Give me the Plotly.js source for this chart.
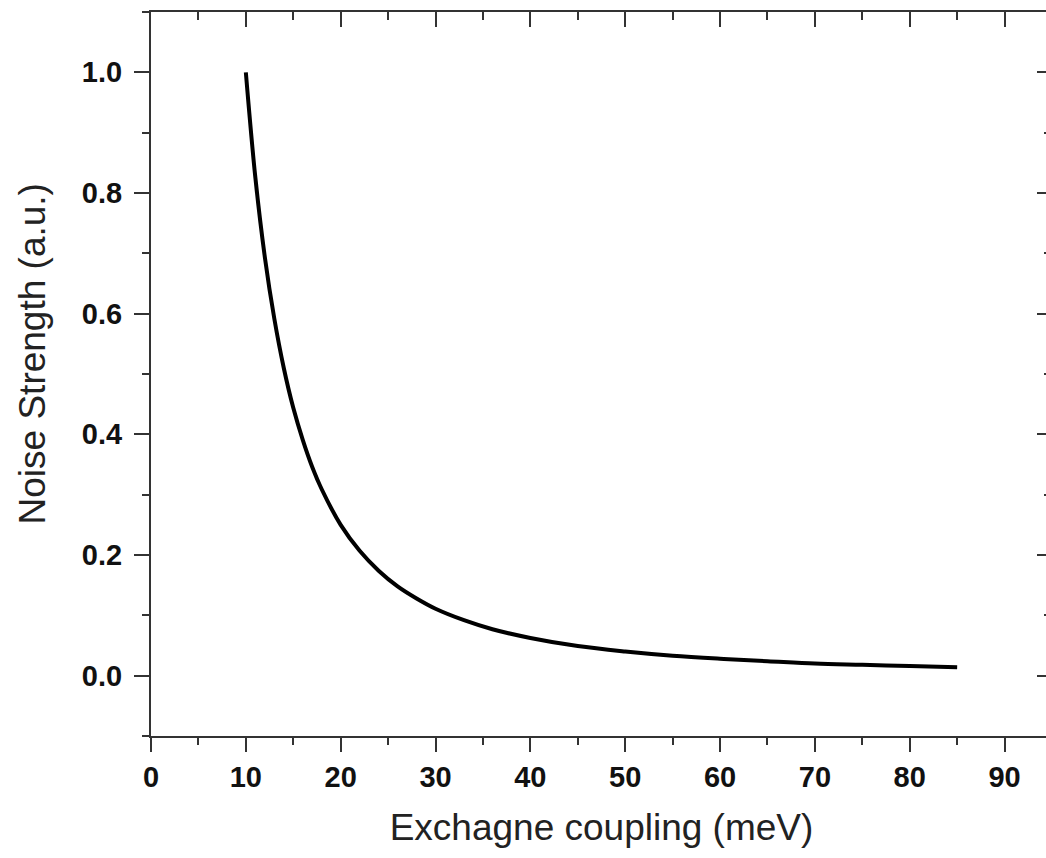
<!DOCTYPE html>
<html>
<head>
<meta charset="utf-8">
<script src="https://cdn.plot.ly/plotly-3.0.1.min.js"></script>
<style>
html, body { margin: 0; padding: 0; overflow: hidden; background: #fff; }
#chart { width: 1070px; height: 858px; }
</style>
</head>
<body>
<div id="chart"></div>
<script>
// Exchange coupling (meV)
const exchangeCoupling = [10, 11, 12, 13, 14, 15, 16, 17, 18, 20, 22, 24, 26, 28, 30, 33, 36, 40, 45, 50, 55, 60, 65, 70, 75, 80, 85];
// Noise strength (a.u.)
const noiseStrength = [1.0, 0.826, 0.694, 0.592, 0.510, 0.444, 0.391, 0.346, 0.309, 0.250, 0.207, 0.174, 0.148, 0.128, 0.111, 0.092, 0.077, 0.0625, 0.049, 0.040, 0.033, 0.028, 0.024, 0.020, 0.018, 0.016, 0.014];

const xTickVals = [0, 10, 20, 30, 40, 50, 60, 70, 80, 90];
const xTickText = ['0', '10', '20', '30', '40', '50', '60', '70', '80', '90'];
const yTickVals = [0.0, 0.2, 0.4, 0.6, 0.8, 1.0];
const yTickText = ['0.0', '0.2', '0.4', '0.6', '0.8', '1.0'];

const xTitle = 'Exchagne coupling (meV)';
const yTitle = 'Noise Strength (a.u.)';

const FONT = 'Liberation Sans, Arial, sans-serif';
const AX = '#333';

const traces = [
  {
    x: exchangeCoupling,
    y: noiseStrength,
    type: 'scatter',
    mode: 'lines',
    line: { color: '#000', width: 4, shape: 'spline', smoothing: 1 },
    hoverinfo: 'skip',
    showlegend: false
  },
  { x: [], y: [], xaxis: 'x2', yaxis: 'y2', type: 'scatter', mode: 'lines', showlegend: false, hoverinfo: 'skip' }
];

const xRange = [0, 95];
const yRange = [-0.1, 1.1];

const layout = {
  width: 1070,
  height: 858,
  margin: { l: 151, r: 18, t: 12, b: 122 },
  paper_bgcolor: '#fff',
  plot_bgcolor: '#fff',
  showlegend: false,
  xaxis: {
    range: xRange,
    tickmode: 'array', tickvals: xTickVals, ticktext: xTickText,
    ticks: 'outside', ticklen: 14, tickwidth: 2, tickcolor: AX,
    minor: { dtick: 5, tick0: 0, ticks: 'outside', ticklen: 7, tickwidth: 2, tickcolor: AX },
    showline: true, linewidth: 2, linecolor: AX,
    showgrid: false, zeroline: false,
    tickfont: { family: FONT, size: 29, color: '#111', weight: 700 },
    title: { text: xTitle, font: { family: FONT, size: 37, color: '#222' }, standoff: 22 }
  },
  yaxis: {
    range: yRange,
    tickmode: 'array', tickvals: yTickVals, ticktext: yTickText,
    ticks: 'outside', ticklen: 15, tickwidth: 2, tickcolor: AX,
    minor: { dtick: 0.1, tick0: 0, ticks: 'outside', ticklen: 7, tickwidth: 2, tickcolor: AX },
    showline: true, linewidth: 2, linecolor: AX,
    showgrid: false, zeroline: false,
    tickfont: { family: FONT, size: 29, color: '#111', weight: 700 },
    ticklabelstandoff: 6
  },
  xaxis2: {
    range: xRange, overlaying: 'x', side: 'top', anchor: 'y2',
    tickmode: 'array', tickvals: xTickVals,
    ticks: 'inside', ticklen: 15, tickwidth: 2, tickcolor: AX,
    minor: { dtick: 5, tick0: 0, ticks: 'inside', ticklen: 8, tickwidth: 2, tickcolor: AX },
    showticklabels: false,
    showline: true, linewidth: 2, linecolor: AX,
    showgrid: false, zeroline: false
  },
  yaxis2: {
    range: yRange, overlaying: 'y', side: 'right', anchor: 'x2',
    tickmode: 'array', tickvals: yTickVals,
    ticks: 'inside', ticklen: 15, tickwidth: 2, tickcolor: AX,
    minor: { dtick: 0.1, tick0: 0, ticks: 'inside', ticklen: 8, tickwidth: 2, tickcolor: AX },
    showticklabels: false,
    showline: true, linewidth: 2, linecolor: AX,
    showgrid: false, zeroline: false
  },
  annotations: [
    {
      text: yTitle,
      xref: 'paper', yref: 'paper',
      x: 0, y: 0.527,
      xanchor: 'center', yanchor: 'middle',
      xshift: -119,
      textangle: -90,
      showarrow: false,
      font: { family: FONT, size: 37, color: '#222' }
    }
  ]
};

Plotly.newPlot('chart', traces, layout, { displayModeBar: false, staticPlot: true });
</script>
</body>
</html>
